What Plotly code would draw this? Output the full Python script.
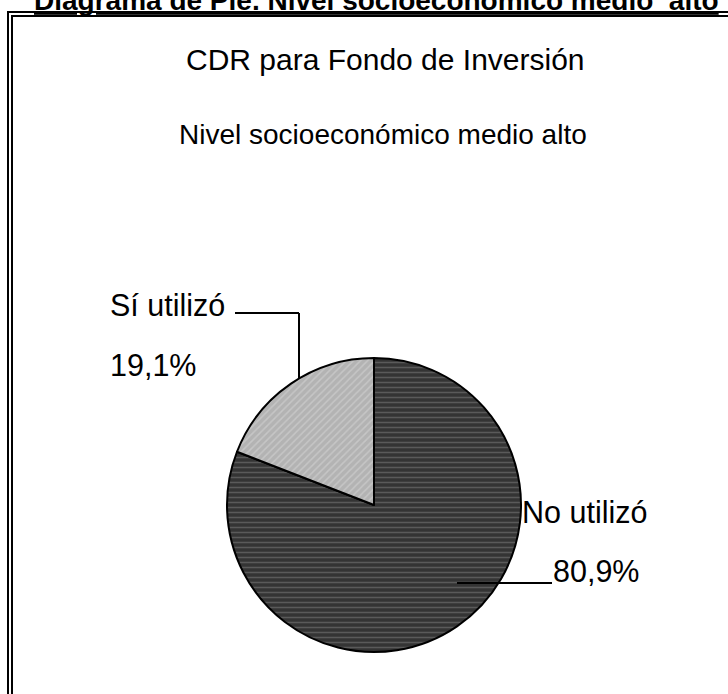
import plotly.graph_objects as go

# ---- data ----
categories = ["No utilizó", "Sí utilizó"]
percentages = [80.9, 19.1]
label_text = ["80,9%", "19,1%"]
chart_title = "CDR para Fondo de Inversión"
chart_subtitle = "Nivel socioeconómico medio alto"
page_title = "Diagrama de Pie. Nivel socioeconómico medio  alto"

W, H = 728, 694
FONT = "Liberation Sans, Arial, sans-serif"


def px(x):
    return x / W


def py(y):
    return 1 - y / H


fig = go.Figure()

# pie circle
cx, cy, r = 374, 505, 147
fig.add_trace(go.Pie(
    labels=categories,
    values=percentages,
    sort=False,
    direction="clockwise",
    rotation=0,
    textinfo="none",
    hoverinfo="label+percent",
    showlegend=False,
    domain=dict(x=[px(cx - r), px(cx + r)], y=[py(cy + r), py(cy - r)]),
    marker=dict(
        colors=["#3a3a3a", "#b6b6b6"],
        line=dict(color="black", width=2),
        pattern=dict(shape=["-", "/"], fgcolor=["#5a5a5a", "#c6c6c6"],
                     bgcolor=["#343434", "#b3b3b3"], size=5, solidity=0.3),
    ),
))

annotations = []


def add_text(text, x, y, size, anchor="left"):
    annotations.append(dict(
        text=text, x=px(x), y=py(y), xref="paper", yref="paper",
        xanchor=anchor, yanchor="middle", showarrow=False,
        font=dict(family=FONT, size=size, color="black"),
    ))


# page title (bold, underlined, partially cut at the top as in the source)
add_text("<b><u>" + page_title + "</u></b>", 376, 0, 28, anchor="center")
# chart titles
add_text(chart_title, 385, 59, 30, anchor="center")
add_text(chart_subtitle, 383, 135, 28, anchor="center")
# slice labels
add_text(categories[1], 108, 305, 30.5)
add_text(label_text[1], 108, 365, 30.5)
add_text(categories[0], 520, 512, 30.5)
add_text(label_text[0], 551, 571, 30.5)

shapes = [
    # double frame
    dict(type="rect", xref="paper", yref="paper", x0=px(8), x1=px(760), y0=py(740), y1=py(12),
         line=dict(color="black", width=2), fillcolor="rgba(0,0,0,0)", layer="below"),
    dict(type="rect", xref="paper", yref="paper", x0=px(12), x1=px(756), y0=py(736), y1=py(16),
         line=dict(color="black", width=2), fillcolor="rgba(0,0,0,0)", layer="below"),
    # leader line for "Sí utilizó"
    dict(type="line", xref="paper", yref="paper", x0=px(235), x1=px(299), y0=py(313), y1=py(313),
         line=dict(color="black", width=2)),
    dict(type="line", xref="paper", yref="paper", x0=px(299), x1=px(299), y0=py(313), y1=py(379),
         line=dict(color="black", width=2)),
    # leader line for "No utilizó"
    dict(type="line", xref="paper", yref="paper", x0=px(457), x1=px(552), y0=py(583), y1=py(583),
         line=dict(color="black", width=2)),
]

fig.update_layout(
    width=W, height=H,
    margin=dict(l=0, r=0, t=0, b=0),
    paper_bgcolor="white",
    plot_bgcolor="white",
    annotations=annotations,
    shapes=shapes,
    font=dict(family=FONT, color="black"),
)

fig.write_html("out.html", config={"displayModeBar": False},
               post_script="document.body.style.margin='0';")
